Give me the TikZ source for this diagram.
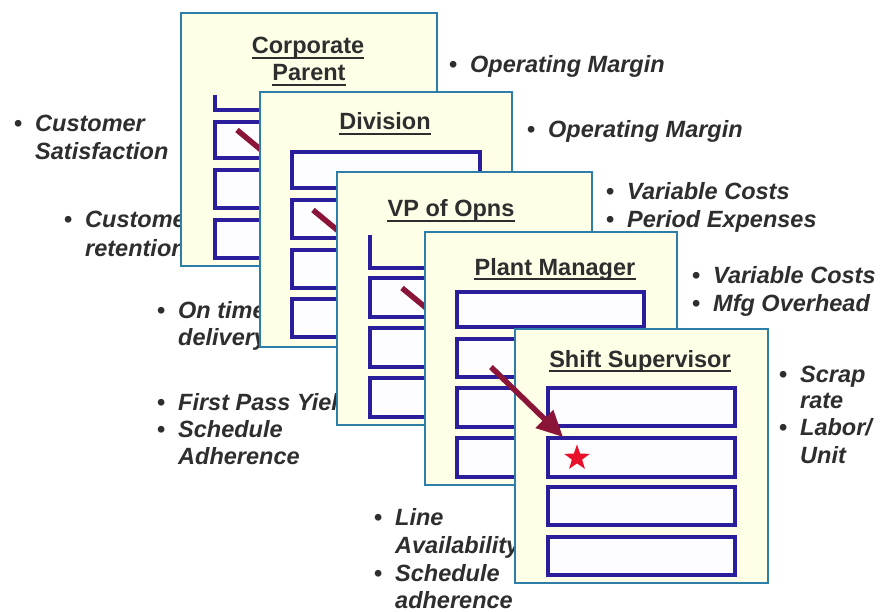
\documentclass[tikz,border=0pt]{standalone}
\usepackage{fontspec}
\setmainfont{Liberation Sans}
\usetikzlibrary{arrows.meta,shapes.geometric}

\definecolor{cardedge}{HTML}{2E7EAA}
\definecolor{cardfill}{HTML}{FFFFE8}
\definecolor{baredge}{HTML}{2B1E9C}
\definecolor{barfill}{HTML}{FDFDFF}
\definecolor{arrowred}{HTML}{8A1538}
\definecolor{starred}{HTML}{E8102A}
\definecolor{txtgray}{HTML}{2E2E2E}

% bullet followed by a fixed gap before the item text
\newcommand{\kpibullet}{\makebox[21pt][l]{\upshape\bfseries •}}

\begin{document}
\begin{tikzpicture}[x=1pt,y=-1pt,
  card/.style={draw=cardedge, line width=2.8pt, fill=cardfill},
  bar/.style={draw=baredge, line width=3.1pt, fill=barfill},
  barline/.style={draw=baredge, line width=3.1pt},
  kpi/.style={anchor=base west, inner sep=0pt,
    font=\fontsize{23.5}{27}\selectfont\bfseries\itshape, text=txtgray},
  cardtitle/.style={anchor=base, inner sep=0pt,
    font=\fontsize{23.5}{27}\selectfont\bfseries, text=txtgray},
  uline/.style={draw=txtgray, line width=1.7pt},
  link/.style={draw=arrowred, line width=5.5pt},
]
\useasboundingbox (0,0) rectangle (880,612);
\fill[white] (0,0) rectangle (880,612);

% ---------- measures beside each level ----------
\node[kpi] (om1) at (449,73) {\kpibullet Operating Margin};
\node[kpi] (om2) at (527,138) {\kpibullet Operating Margin};

\node[kpi] (cs1) at (14,132) {\kpibullet Customer};
\node[kpi] (cs2) at (35,160) {Satisfaction};

\node[kpi] (cr1) at (64,228) {\kpibullet Customer};
\node[kpi] (cr2) at (85,257) {retention};

\node[kpi] (ot1) at (157,318) {\kpibullet On time};
\node[kpi] (ot2) at (178,345) {delivery};

\node[kpi] (fp1) at (157,410) {\kpibullet First Pass Yield};
\node[kpi] (sa1) at (157,437) {\kpibullet Schedule};
\node[kpi] (sa2) at (178,464) {Adherence};

\node[kpi] (vc1) at (606,200) {\kpibullet Variable Costs};
\node[kpi] (pe1) at (606,228) {\kpibullet Period Expenses};

\node[kpi] (vc2) at (692,283) {\kpibullet Variable Costs};
\node[kpi] (mo1) at (692,311) {\kpibullet Mfg Overhead};

\node[kpi] (sr1) at (779,382) {\kpibullet Scrap};
\node[kpi] (sr2) at (800,408) {rate};
\node[kpi] (lu1) at (779,435) {\kpibullet Labor/};
\node[kpi] (lu2) at (800,463) {Unit};

\node[kpi] (la1) at (374,525) {\kpibullet Line};
\node[kpi] (la2) at (395,553) {Availability};
\node[kpi] (sh1) at (374,581) {\kpibullet Schedule};
\node[kpi] (sh2) at (395,608) {adherence};

% ---------- Corporate Parent ----------
\draw[card] (181,13) rectangle (437,266);
\node[cardtitle] (t1a) at (308,54) {Corporate};
\node[cardtitle] (t1b) at (309,81) {Parent};
\draw[uline] ([yshift=-4pt]t1a.base west) -- ([yshift=-4pt]t1a.base east);
\draw[uline] ([yshift=-4pt]t1b.base west) -- ([yshift=-4pt]t1b.base east);
\draw[barline] (215,95) -- (215,110) -- (300,110);
\draw[bar] (215,122) rectangle (404,158);
\draw[bar] (215,170) rectangle (404,208);
\draw[bar] (215,220) rectangle (404,258);
\coordinate (a1s) at (237,130);
\coordinate (a1e) at (266,154);
\draw[link] (a1s) -- (a1e);

% ---------- Division ----------
\draw[card] (260,92) rectangle (512,347);
\node[cardtitle] (t2) at (385,130) {Division};
\draw[uline] ([yshift=-4pt]t2.base west) -- ([yshift=-4pt]t2.base east);
\draw[bar] (292,152) rectangle (480,188);
\draw[bar] (292,200) rectangle (480,238);
\draw[bar] (292,250) rectangle (480,288);
\draw[bar] (292,299) rectangle (480,337);
\coordinate (a2s) at (313,210);
\coordinate (a2e) at (342,234);
\draw[link] (a2s) -- (a2e);

% ---------- VP of Opns ----------
\draw[card] (337,172) rectangle (592,425);
\node[cardtitle] (t3) at (451,217) {VP of Opns};
\draw[uline] ([yshift=-4pt]t3.base west) -- ([yshift=-4pt]t3.base east);
\draw[barline] (370,235) -- (370,268) -- (440,268);
\draw[bar] (370,278) rectangle (559,317);
\draw[bar] (370,328) rectangle (559,367);
\draw[bar] (370,378) rectangle (559,417);
\coordinate (a3s) at (402,288);
\coordinate (a3e) at (431,312);
\draw[link] (a3s) -- (a3e);

% ---------- Plant Manager ----------
\draw[card] (425,232) rectangle (677,485);
\node[cardtitle] (t4) at (555,275) {Plant Manager};
\draw[uline] ([yshift=-4pt]t4.base west) -- ([yshift=-4pt]t4.base east);
\draw[bar] (457,292) rectangle (644,327);
\draw[bar] (457,339) rectangle (644,377);
\draw[bar] (457,388) rectangle (644,427);
\draw[bar] (457,438) rectangle (644,477);

% ---------- Shift Supervisor ----------
\draw[card] (515,329) rectangle (768,583);
\node[cardtitle] (t5) at (640,367) {Shift Supervisor};
\draw[uline] ([yshift=-4pt]t5.base west) -- ([yshift=-4pt]t5.base east);
\draw[bar] (548,388) rectangle (735,426);
\draw[bar] (548,438) rectangle (735,477);
\draw[bar] (548,487) rectangle (735,525);
\draw[bar] (548,537) rectangle (735,575);
\node[star, star points=5, star point ratio=2.5, fill=starred,
      minimum size=27pt, inner sep=0pt] (goal) at (577,458) {};

% cascade arrow ending at the supervisor's target
\coordinate (a4s) at (491,367);
\coordinate (a4e) at (563,437);
\draw[link, -{Triangle[length=26pt,width=24pt]}] (a4s) -- (a4e);
\end{tikzpicture}
\end{document}
